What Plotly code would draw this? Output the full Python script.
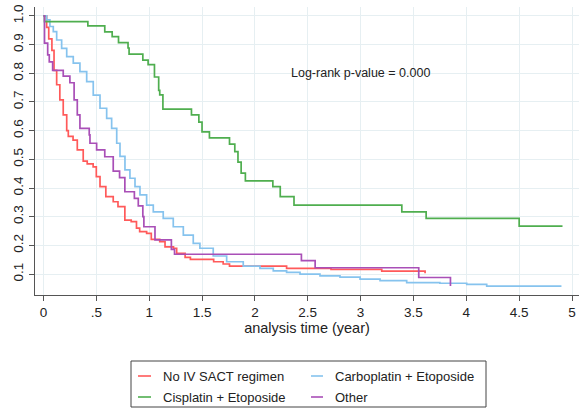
import plotly.graph_objects as go

# ---- data (survival step functions) ----
red_t = [0, 0.03, 0.05, 0.08, 0.10, 0.125, 0.155, 0.187, 0.22, 0.235, 0.28, 0.32, 0.376, 0.414, 0.47,
         0.50, 0.535, 0.59, 0.66, 0.705, 0.77, 0.83, 0.88, 0.91, 0.976, 1.02, 1.10, 1.15, 1.23, 1.26,
         1.34, 1.39, 1.61, 1.70, 1.76, 2.30, 2.72, 3.20, 3.61]
red_s = [1.0, 0.96, 0.92, 0.88, 0.81, 0.76, 0.707, 0.655, 0.60, 0.58, 0.567, 0.533, 0.494, 0.484, 0.474,
         0.44, 0.405, 0.37, 0.352, 0.335, 0.288, 0.283, 0.26, 0.248, 0.242, 0.221, 0.213, 0.195, 0.19, 0.172,
         0.158, 0.151, 0.143, 0.135, 0.128, 0.12, 0.116, 0.11, 0.103]

blue_t = [0, 0.03, 0.061, 0.093, 0.125, 0.172, 0.22, 0.282, 0.345, 0.409, 0.471, 0.535, 0.598, 0.645,
          0.693, 0.724, 0.771, 0.818, 0.866, 0.913, 0.976, 1.039, 1.133, 1.228, 1.323, 1.417, 1.48,
          1.606, 1.733, 1.89, 2.048, 2.174, 2.30, 2.427, 2.616, 2.805, 2.995, 3.184, 3.436, 3.75,
          4.004, 4.193, 4.90]
blue_s = [1.0, 0.986, 0.963, 0.945, 0.916, 0.887, 0.858, 0.835, 0.806, 0.771, 0.724, 0.678, 0.643, 0.608,
          0.556, 0.51, 0.463, 0.434, 0.405, 0.376, 0.34, 0.317, 0.294, 0.265, 0.236, 0.207, 0.19,
          0.163, 0.143, 0.128, 0.12, 0.111, 0.106, 0.10, 0.094, 0.089, 0.082, 0.077, 0.07, 0.068,
          0.064, 0.058, 0.058]

green_t = [0, 0.01, 0.42, 0.58, 0.65, 0.71, 0.80, 0.81, 0.94, 0.99, 1.05, 1.09, 1.10, 1.13, 1.40, 1.47,
           1.50, 1.57, 1.76, 1.81, 1.84, 1.87, 1.91, 2.17, 2.24, 2.37, 3.39, 3.62, 4.50, 4.91]
green_s = [1.0, 0.98, 0.965, 0.944, 0.928, 0.907, 0.888, 0.867, 0.846, 0.83, 0.787, 0.74, 0.725, 0.675,
           0.655, 0.63, 0.596, 0.575, 0.553, 0.527, 0.49, 0.452, 0.425, 0.405, 0.37, 0.34, 0.317,
           0.294, 0.267, 0.267]

purple_t = [0, 0.01, 0.04, 0.055, 0.087, 0.187, 0.25, 0.29, 0.32, 0.345, 0.433, 0.44, 0.503, 0.58,
            0.66, 0.72, 0.77, 0.86, 0.897, 0.94, 0.95, 1.055, 1.21, 1.24, 2.44, 2.57, 3.55, 3.85]
purple_s = [1.0, 0.905, 0.864, 0.84, 0.81, 0.79, 0.767, 0.707, 0.655, 0.608, 0.585, 0.556, 0.533, 0.509,
            0.459, 0.436, 0.387, 0.364, 0.338, 0.30, 0.265, 0.219, 0.186, 0.169, 0.147, 0.122, 0.088,
            0.058]

x_ticks = [0, 0.5, 1, 1.5, 2, 2.5, 3, 3.5, 4, 4.5, 5]
x_ticklabels = ["0", ".5", "1", "1.5", "2", "2.5", "3", "3.5", "4", "4.5", "5"]
y_ticks = [0.1, 0.2, 0.3, 0.4, 0.5, 0.6, 0.7, 0.8, 0.9, 1.0]
y_ticklabels = ["0.1", "0.2", "0.3", "0.4", "0.5", "0.6", "0.7", "0.8", "0.9", "1.0"]

series = [
    ("No IV SACT regimen", red_t, red_s, "#ff5a5a"),
    ("Carboplatin + Etoposide", blue_t, blue_s, "#86c3ee"),
    ("Cisplatin + Etoposide", green_t, green_s, "#4fae4f"),
    ("Other", purple_t, purple_s, "#a94fb7"),
]

FONT = "Liberation Sans, Arial, sans-serif"

fig = go.Figure()
for name, t, s, col in series:
    fig.add_trace(go.Scatter(x=t, y=s, mode="lines", name=name,
                             line=dict(color=col, width=1.7, shape="hv")))

fig.add_annotation(x=3.0, y=0.80, xref="x", yref="y", text="Log-rank p-value = 0.000",
                   showarrow=False, font=dict(family=FONT, size=12.5, color="#222"))

# ---- legend box drawn in paper coordinates (2 columns x 2 rows) ----
W, H, L, T = 579, 410, 35, 7
PW, PH = W - L, H - T - 115
px = lambda v: (v - L) / PW
py = lambda v: (295 - v) / PH

fig.add_shape(type="rect", xref="paper", yref="paper",
              x0=px(131), x1=px(486), y0=py(407), y1=py(361),
              line=dict(color="#444", width=1), fillcolor="white")
col_line = [(138, 151), (311, 323)]
col_text = [160.5, 333]
row_y = [376, 397]
for i, (name, t, s, col) in enumerate(series):
    r, c = divmod(i, 2)
    fig.add_shape(type="line", xref="paper", yref="paper",
                  x0=px(col_line[c][0]), x1=px(col_line[c][1]),
                  y0=py(row_y[r]), y1=py(row_y[r]),
                  line=dict(color=col, width=1.6))
    fig.add_annotation(xref="paper", yref="paper", x=px(col_text[c]), y=py(row_y[r]),
                       xanchor="left", yanchor="middle", text=name, showarrow=False,
                       font=dict(family=FONT, size=13, color="#222"))

fig.update_layout(
    width=W, height=H,
    margin=dict(l=L, r=0, t=T, b=115),
    paper_bgcolor="white", plot_bgcolor="white",
    font=dict(family=FONT, color="#222"),
    xaxis=dict(range=[-0.08, 5.066], tickvals=x_ticks, ticktext=x_ticklabels,
               showgrid=True, gridcolor="#e6eff2", gridwidth=1.3, zeroline=False,
               showline=True, linecolor="#555", linewidth=1.3,
               ticks="outside", ticklen=5, tickcolor="#555", tickfont=dict(size=13.5),
               title=dict(text="analysis time (year)", font=dict(size=14.5), standoff=2)),
    yaxis=dict(range=[0.027, 1.031], tickvals=y_ticks, ticktext=y_ticklabels,
               showgrid=True, gridcolor="#e6eff2", gridwidth=1.3, zeroline=False,
               showline=True, linecolor="#555", linewidth=1.3,
               ticks="outside", ticklen=5, tickcolor="#555", tickangle=-90,
               tickfont=dict(size=13.5)),
    showlegend=False,
)

fig.write_html("out.html")
